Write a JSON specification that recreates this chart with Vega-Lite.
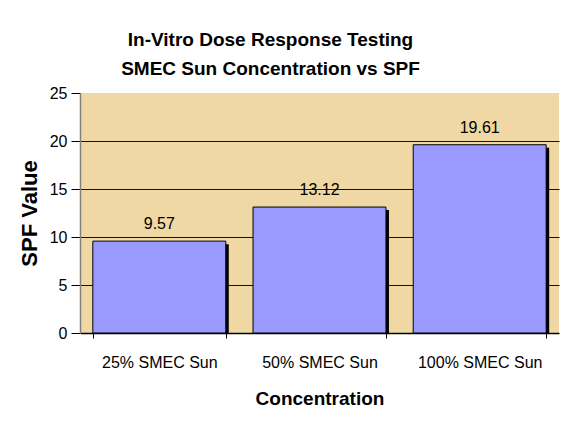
{
  "$schema": "https://vega.github.io/schema/vega-lite/v6.json",
  "width": 479,
  "height": 240,
  "autosize": {"type": "none"},
  "padding": {"left": 80, "top": 93, "right": 14, "bottom": 88},
  "background": "white",
  "config": {
    "font": "Liberation Sans",
    "view": {"fill": "#EFD8A3", "stroke": null}
  },
  "title": {
    "text": ["In-Vitro Dose Response Testing", "SMEC Sun Concentration vs SPF"],
    "font": "Liberation Sans",
    "fontSize": 19,
    "fontWeight": "bold",
    "lineHeight": 29,
    "color": "black",
    "anchor": "middle",
    "dx": -49,
    "offset": 6
  },
  "data": {
    "values": [
      {"concentration": "25% SMEC Sun", "spf": 9.57},
      {"concentration": "50% SMEC Sun", "spf": 13.12},
      {"concentration": "100% SMEC Sun", "spf": 19.61}
    ]
  },
  "encoding": {
    "x": {
      "field": "concentration",
      "type": "nominal",
      "sort": null,
      "scale": {"paddingInner": 0.17, "paddingOuter": 0.08},
      "axis": {
        "title": "Concentration",
        "labelAngle": 0,
        "labelFontSize": 16,
        "labelColor": "black",
        "labelPadding": 16,
        "tickSize": 5,
        "tickColor": "black",
        "tickBand": "extent",
        "domainColor": "black",
        "domainWidth": 1.5,
        "titleFontSize": 19,
        "titleFontWeight": "bold",
        "titleColor": "black",
        "titlePadding": 19,
        "grid": false
      }
    },
    "y": {
      "field": "spf",
      "type": "quantitative",
      "scale": {"domain": [0, 25], "nice": false},
      "axis": {
        "title": "SPF Value",
        "values": [0, 5, 10, 15, 20, 25],
        "labelFontSize": 16,
        "labelColor": "black",
        "labelPadding": 4,
        "tickSize": 9,
        "tickColor": "black",
        "domainColor": "#808080",
        "domainWidth": 1.5,
        "titleFontSize": 22,
        "titleFontWeight": "bold",
        "titleColor": "black",
        "titlePadding": 8,
        "grid": true,
        "gridColor": {"condition": {"test": "datum.value == 25 || datum.value == 0", "value": "transparent"}, "value": "#111111"},
        "gridWidth": 1
      }
    }
  },
  "layer": [
    {
      "mark": {"type": "bar", "color": "black", "xOffset": 3, "yOffset": 3, "clip": true}
    },
    {
      "mark": {"type": "bar", "fill": "#9999FF", "stroke": "black", "strokeWidth": 1}
    },
    {
      "mark": {"type": "text", "baseline": "bottom", "dy": -9, "fontSize": 16, "color": "black"},
      "encoding": {"text": {"field": "spf", "type": "quantitative", "format": ".2f"}}
    }
  ]
}
